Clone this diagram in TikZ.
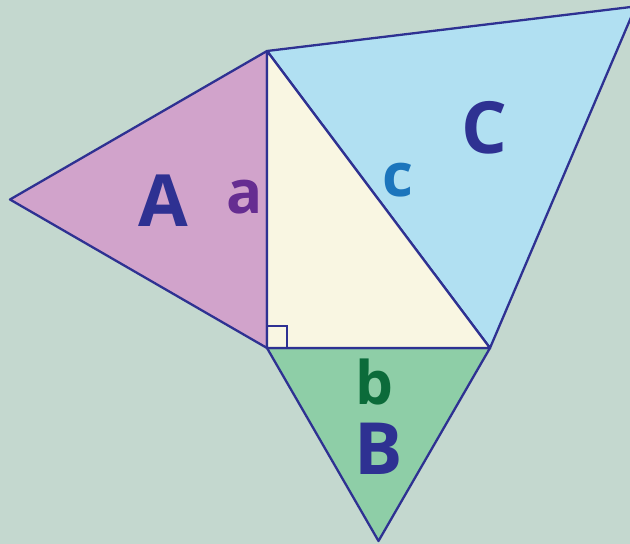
\documentclass[tikz,border=0pt]{standalone}
\usepackage{fontspec}
\setmainfont{Open Sans}[FontFace={b}{n}{Open Sans Bold}]
\definecolor{bg}{HTML}{C4D8CF}
\definecolor{fillA}{HTML}{D1A3CB}
\definecolor{fillB}{HTML}{8ECEA7}
\definecolor{fillC}{HTML}{B1E0F2}
\definecolor{fillM}{HTML}{F9F6E2}
\definecolor{edge}{HTML}{2E3192}
\definecolor{colA}{HTML}{662D91}
\definecolor{colC}{HTML}{1C75BC}
\definecolor{colB}{HTML}{0B6B3A}
\begin{document}
\begin{tikzpicture}[x=1pt,y=-1pt,
  tri/.style={draw=edge,line width=2.3pt,line join=round},
  big/.style={font=\fontsize{72}{72}\selectfont\bfseries,text=edge,anchor=base,inner sep=0pt},
  small/.style={font=\fontsize{60}{60}\selectfont\bfseries,anchor=base,inner sep=0pt}]
\fill[bg] (0,0) rectangle (630,544);
\useasboundingbox (0,0) rectangle (630,544);
\coordinate (R) at (267,348);
\coordinate (T) at (267,51);
\coordinate (Q) at (490,348);
\coordinate (PA) at (10,199.5);
\coordinate (PB) at (378.5,541);
\coordinate (PC) at (635.7,6.4);
\begin{scope}
\clip (0,0) rectangle (630,544);
\draw[tri,fill=fillC] (T) -- (PC) -- (Q) -- cycle;
\end{scope}
\draw[tri,fill=fillA] (T) -- (PA) -- (R) -- cycle;
\draw[tri,fill=fillB] (R) -- (Q) -- (PB) -- cycle;
\draw[tri,fill=fillM] (T) -- (R) -- (Q) -- cycle;
\draw[draw=edge,line width=2.3pt] (267,326) -- (287,326) -- (287,348);
\node[big] (lA) at (163,226) {A};
\node[small,text=colA] (la) at (245,213) {a};
\node[small,text=colC] (lc) at (398,196) {c};
\node[big] (lC) at (484,153) {C};
\node[small,text=colB] (lb) at (374,404) {b};
\node[big] (lB) at (379,474) {B};
\end{tikzpicture}
\end{document}
